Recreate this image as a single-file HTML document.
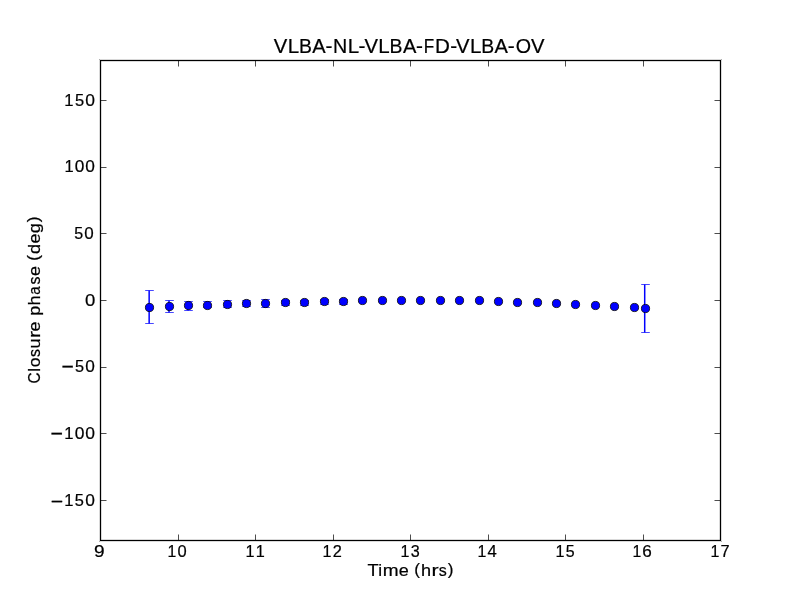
<!DOCTYPE html><html><head><meta charset="utf-8"><style>html,body{margin:0;padding:0;background:#fff;width:800px;height:600px;overflow:hidden}svg{display:block;will-change:transform}text{font-family:"Liberation Sans",sans-serif;fill:#000;stroke:#000;stroke-width:0.22px}</style></head><body>
<svg width="800" height="600" viewBox="0 0 800 600">
<rect x="0" y="0" width="800" height="600" fill="#fff"/>
<path d="M100.5,500.5h6M720.5,500.5h-6M100.5,433.5h6M720.5,433.5h-6M100.5,367.5h6M720.5,367.5h-6M100.5,300.5h6M720.5,300.5h-6M100.5,233.5h6M720.5,233.5h-6M100.5,167.5h6M720.5,167.5h-6M100.5,100.5h6M720.5,100.5h-6M178.5,540.5v-6M178.5,60.5v6M255.5,540.5v-6M255.5,60.5v6M333.5,540.5v-6M333.5,60.5v6M410.5,540.5v-6M410.5,60.5v6M488.5,540.5v-6M488.5,60.5v6M565.5,540.5v-6M565.5,60.5v6M643.5,540.5v-6M643.5,60.5v6" stroke="#000" stroke-width="0.7" fill="none"/>
<rect x="100.5" y="60.5" width="620" height="480" fill="none" stroke="#000" stroke-width="1.3"/>
<path d="M99,59h1v1h-1zM721,59h1v1h-1zM99,541h1v1h-1zM721,541h1v1h-1z" fill="#000" fill-opacity="0.3"/>
<path d="M149.15,290.5V323.5M169.0,300.5V312.5M188.0,301.5V310.5M207.0,301.5V307.5M227.0,300.5V307.5M246.0,300.5V306.5M265.0,299.5V307.5M285.0,300.5V305.5M304.0,300.5V305.5M324.0,299.5V304.5M343.0,299.5V304.5M644.7,284.5V332.5" stroke="#0000ff" stroke-width="1.5" fill="none"/>
<path d="M145.2,290.5h8.6M145.2,323.5h8.6M165.2,300.5h8.6M165.2,312.5h8.6M184.2,301.5h8.6M184.2,310.5h8.6M203.2,301.5h8.6M203.2,307.5h8.6M223.2,300.5h8.6M223.2,307.5h8.6M242.2,300.5h8.6M242.2,306.5h8.6M261.2,299.5h8.6M261.2,307.5h8.6M281.2,300.5h8.6M281.2,305.5h8.6M300.2,300.5h8.6M300.2,305.5h8.6M320.2,299.5h8.6M320.2,304.5h8.6M339.2,299.5h8.6M339.2,304.5h8.6M641.2,284.5h8.6M641.2,332.5h8.6" stroke="#0000ff" stroke-width="0.72" fill="none"/>
<circle cx="149.5" cy="307.5" r="4.1" fill="#0000ff" stroke="#000" stroke-width="0.8"/>
<circle cx="169.5" cy="306.5" r="4.1" fill="#0000ff" stroke="#000" stroke-width="0.8"/>
<circle cx="188.5" cy="305.5" r="4.1" fill="#0000ff" stroke="#000" stroke-width="0.8"/>
<circle cx="207.5" cy="305.5" r="4.1" fill="#0000ff" stroke="#000" stroke-width="0.8"/>
<circle cx="227.5" cy="304.5" r="4.1" fill="#0000ff" stroke="#000" stroke-width="0.8"/>
<circle cx="246.5" cy="303.5" r="4.1" fill="#0000ff" stroke="#000" stroke-width="0.8"/>
<circle cx="265.5" cy="303.5" r="4.1" fill="#0000ff" stroke="#000" stroke-width="0.8"/>
<circle cx="285.5" cy="302.5" r="4.1" fill="#0000ff" stroke="#000" stroke-width="0.8"/>
<circle cx="304.5" cy="302.5" r="4.1" fill="#0000ff" stroke="#000" stroke-width="0.8"/>
<circle cx="324.5" cy="301.5" r="4.1" fill="#0000ff" stroke="#000" stroke-width="0.8"/>
<circle cx="343.5" cy="301.5" r="4.1" fill="#0000ff" stroke="#000" stroke-width="0.8"/>
<circle cx="362.5" cy="300.5" r="4.1" fill="#0000ff" stroke="#000" stroke-width="0.8"/>
<circle cx="382.5" cy="300.5" r="4.1" fill="#0000ff" stroke="#000" stroke-width="0.8"/>
<circle cx="401.5" cy="300.5" r="4.1" fill="#0000ff" stroke="#000" stroke-width="0.8"/>
<circle cx="420.5" cy="300.5" r="4.1" fill="#0000ff" stroke="#000" stroke-width="0.8"/>
<circle cx="440.5" cy="300.5" r="4.1" fill="#0000ff" stroke="#000" stroke-width="0.8"/>
<circle cx="459.5" cy="300.5" r="4.1" fill="#0000ff" stroke="#000" stroke-width="0.8"/>
<circle cx="479.5" cy="300.5" r="4.1" fill="#0000ff" stroke="#000" stroke-width="0.8"/>
<circle cx="498.5" cy="301.5" r="4.1" fill="#0000ff" stroke="#000" stroke-width="0.8"/>
<circle cx="517.5" cy="302.5" r="4.1" fill="#0000ff" stroke="#000" stroke-width="0.8"/>
<circle cx="537.5" cy="302.5" r="4.1" fill="#0000ff" stroke="#000" stroke-width="0.8"/>
<circle cx="556.5" cy="303.5" r="4.1" fill="#0000ff" stroke="#000" stroke-width="0.8"/>
<circle cx="575.5" cy="304.5" r="4.1" fill="#0000ff" stroke="#000" stroke-width="0.8"/>
<circle cx="595.5" cy="305.5" r="4.1" fill="#0000ff" stroke="#000" stroke-width="0.8"/>
<circle cx="614.5" cy="306.5" r="4.1" fill="#0000ff" stroke="#000" stroke-width="0.8"/>
<circle cx="634.5" cy="307.5" r="4.1" fill="#0000ff" stroke="#000" stroke-width="0.8"/>
<circle cx="645.5" cy="308.5" r="4.1" fill="#0000ff" stroke="#000" stroke-width="0.8"/>
<text transform="translate(50.70,507.53) scale(1.272,1.164)" font-size="16.67">−</text><text transform="translate(64.34,506.30) scale(0.994,1.000)" font-size="16.67">1</text><text transform="translate(74.87,506.30) scale(0.982,1.000)" font-size="16.67">5</text><text transform="translate(85.13,506.30) scale(1.041,1.000)" font-size="16.67">0</text>
<text transform="translate(50.55,440.13) scale(1.279,1.164)" font-size="16.67">−</text><text transform="translate(64.26,438.90) scale(1.000,1.000)" font-size="16.67">1</text><text transform="translate(74.65,438.90) scale(1.047,1.000)" font-size="16.67">0</text><text transform="translate(85.18,438.90) scale(1.047,1.000)" font-size="16.67">0</text>
<text transform="translate(61.46,373.33) scale(1.264,1.164)" font-size="16.67">−</text><text transform="translate(75.08,372.10) scale(0.976,1.000)" font-size="16.67">5</text><text transform="translate(85.28,372.10) scale(1.035,1.000)" font-size="16.67">0</text>
<text transform="translate(85.08,306.00) scale(1.113,1.000)" font-size="16.67">0</text>
<text transform="translate(74.26,238.90) scale(0.962,1.000)" font-size="16.67">5</text><text transform="translate(84.31,238.90) scale(1.020,1.000)" font-size="16.67">0</text>
<text transform="translate(64.54,172.15) scale(0.990,1.000)" font-size="16.67">1</text><text transform="translate(74.83,172.15) scale(1.037,1.000)" font-size="16.67">0</text><text transform="translate(85.26,172.15) scale(1.037,1.000)" font-size="16.67">0</text>
<text transform="translate(64.33,106.30) scale(0.999,1.000)" font-size="16.67">1</text><text transform="translate(74.92,106.30) scale(0.987,1.000)" font-size="16.67">5</text><text transform="translate(85.24,106.30) scale(1.046,1.000)" font-size="16.67">0</text>
<text transform="translate(93.93,557.10) scale(1.148,1.000)" font-size="16.67">9</text>
<text transform="translate(167.60,557.10) scale(0.945,1.000)" font-size="16.67">1</text><text transform="translate(177.42,557.10) scale(0.990,1.000)" font-size="16.67">0</text>
<text transform="translate(245.51,557.10) scale(0.974,1.000)" font-size="16.67">1</text><text transform="translate(255.77,557.10) scale(0.974,1.000)" font-size="16.67">1</text>
<text transform="translate(322.57,557.10) scale(0.972,1.000)" font-size="16.67">1</text><text transform="translate(332.63,557.10) scale(0.981,1.000)" font-size="16.67">2</text>
<text transform="translate(400.53,557.10) scale(0.963,1.000)" font-size="16.67">1</text><text transform="translate(410.74,557.10) scale(0.968,1.000)" font-size="16.67">3</text>
<text transform="translate(477.59,557.10) scale(0.953,1.000)" font-size="16.67">1</text><text transform="translate(487.49,557.10) scale(0.998,1.000)" font-size="16.67">4</text>
<text transform="translate(555.52,557.10) scale(0.969,1.000)" font-size="16.67">1</text><text transform="translate(565.79,557.10) scale(0.958,1.000)" font-size="16.67">5</text>
<text transform="translate(632.60,557.10) scale(0.948,1.000)" font-size="16.67">1</text><text transform="translate(642.29,557.10) scale(1.027,1.000)" font-size="16.67">6</text>
<text transform="translate(710.58,557.10) scale(0.959,1.000)" font-size="16.67">1</text><text transform="translate(720.62,557.10) scale(0.982,1.000)" font-size="16.67">7</text>
<text transform="translate(273.81,53.00) scale(0.973,1.000)" font-size="20.80">V</text><text transform="translate(287.67,53.00) scale(0.987,1.000)" font-size="20.80">L</text><text transform="translate(298.88,53.00) scale(0.932,1.000)" font-size="20.80">B</text><text transform="translate(312.31,53.00) scale(0.966,1.000)" font-size="20.80">A</text><text transform="translate(325.54,52.97) scale(1.000,0.986)" font-size="20.80">-</text><text transform="translate(332.94,53.00) scale(0.947,1.000)" font-size="20.80">N</text><text transform="translate(347.80,53.00) scale(0.987,1.000)" font-size="20.80">L</text><text transform="translate(358.43,52.97) scale(1.000,0.986)" font-size="20.80">-</text><text transform="translate(364.39,53.00) scale(0.973,1.000)" font-size="20.80">V</text><text transform="translate(378.24,53.00) scale(0.987,1.000)" font-size="20.80">L</text><text transform="translate(389.45,53.00) scale(0.932,1.000)" font-size="20.80">B</text><text transform="translate(402.89,53.00) scale(0.966,1.000)" font-size="20.80">A</text><text transform="translate(416.12,52.97) scale(1.000,0.986)" font-size="20.80">-</text><text transform="translate(423.74,53.00) scale(0.822,1.000)" font-size="20.80">F</text><text transform="translate(434.92,53.00) scale(0.992,1.000)" font-size="20.80">D</text><text transform="translate(450.16,52.97) scale(1.000,0.986)" font-size="20.80">-</text><text transform="translate(456.12,53.00) scale(0.973,1.000)" font-size="20.80">V</text><text transform="translate(469.97,53.00) scale(0.987,1.000)" font-size="20.80">L</text><text transform="translate(481.18,53.00) scale(0.932,1.000)" font-size="20.80">B</text><text transform="translate(494.62,53.00) scale(0.966,1.000)" font-size="20.80">A</text><text transform="translate(507.85,52.97) scale(1.000,0.986)" font-size="20.80">-</text><text transform="translate(515.65,53.00) scale(0.948,1.000)" font-size="20.80">O</text><text transform="translate(530.88,53.00) scale(0.973,1.000)" font-size="20.80">V</text>
<text transform="translate(367.59,576.00) scale(1.061,1.000)" font-size="17.17">T</text><text transform="translate(378.16,576.00) scale(1.000,1.000)" font-size="17.17">i</text><text transform="translate(382.63,576.00) scale(1.109,1.000)" font-size="17.17">m</text><text transform="translate(398.81,576.00) scale(1.051,1.000)" font-size="17.17">e</text><text transform="translate(414.21,574.90) scale(1.000,0.928)" font-size="17.17">(</text><text transform="translate(421.02,576.00) scale(1.056,1.000)" font-size="17.17">h</text><text transform="translate(431.44,576.00) scale(1.247,1.000)" font-size="17.17">r</text><text transform="translate(438.67,576.00) scale(0.933,1.000)" font-size="17.17">s</text><text transform="translate(447.75,574.90) scale(1.000,0.928)" font-size="17.17">)</text>
<g transform="translate(40,0) rotate(-90)"><text transform="translate(-383.58,0.00) scale(0.899,1.000)" font-size="17.17">C</text><text transform="translate(-371.73,0.00) scale(1.000,1.000)" font-size="17.17">l</text><text transform="translate(-367.34,0.00) scale(1.029,1.000)" font-size="17.17">o</text><text transform="translate(-356.89,0.00) scale(0.928,1.000)" font-size="17.17">s</text><text transform="translate(-348.44,0.00) scale(1.044,1.000)" font-size="17.17">u</text><text transform="translate(-338.06,0.00) scale(1.240,1.000)" font-size="17.17">r</text><text transform="translate(-331.54,0.00) scale(1.046,1.000)" font-size="17.17">e</text><text transform="translate(-315.84,0.00) scale(1.053,1.000)" font-size="17.17">p</text><text transform="translate(-305.38,0.00) scale(1.051,1.000)" font-size="17.17">h</text><text transform="translate(-294.74,0.00) scale(0.870,1.000)" font-size="17.17">a</text><text transform="translate(-284.46,0.00) scale(0.928,1.000)" font-size="17.17">s</text><text transform="translate(-276.11,0.00) scale(1.046,1.000)" font-size="17.17">e</text><text transform="translate(-260.81,-1.10) scale(1.000,0.928)" font-size="17.17">(</text><text transform="translate(-254.12,0.00) scale(1.052,1.000)" font-size="17.17">d</text><text transform="translate(-243.57,0.00) scale(1.046,1.000)" font-size="17.17">e</text><text transform="translate(-233.34,0.00) scale(1.052,1.000)" font-size="17.17">g</text><text transform="translate(-222.14,-1.10) scale(1.000,0.928)" font-size="17.17">)</text></g>
</svg></body></html>
